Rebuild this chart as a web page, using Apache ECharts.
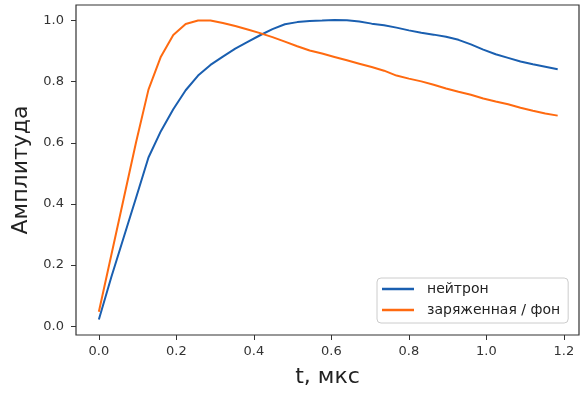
<!DOCTYPE html>
<html>
<head>
<meta charset="utf-8">
<script src="https://cdn.jsdelivr.net/npm/echarts@6/dist/echarts.min.js"></script>
<style>
  html, body { margin: 0; padding: 0; background: #fff; }
  #chart { width: 580px; height: 393px; }
</style>
</head>
<body>
<div id="chart"></div>
<script>
// время, мкс (шаг ~0.032)
const timeUs = [0, 0.032, 0.064, 0.096, 0.128, 0.16, 0.192, 0.224, 0.256, 0.288,
  0.32, 0.352, 0.384, 0.416, 0.448, 0.48, 0.512, 0.544, 0.576, 0.608,
  0.64, 0.672, 0.704, 0.736, 0.768, 0.8, 0.832, 0.864, 0.896, 0.928,
  0.96, 0.992, 1.024, 1.056, 1.088, 1.12, 1.152, 1.184];

// нейтрон
const neutron = [0.022, 0.16, 0.29, 0.42, 0.552, 0.638, 0.71, 0.772, 0.82, 0.855,
  0.882, 0.908, 0.93, 0.952, 0.972, 0.988, 0.995, 0.999, 1.0, 1.002,
  1.001, 0.997, 0.99, 0.985, 0.977, 0.968, 0.96, 0.954, 0.947, 0.937,
  0.922, 0.905, 0.89, 0.878, 0.866, 0.857, 0.849, 0.841];

// заряженная / фон
const charged = [0.047, 0.232, 0.417, 0.602, 0.774, 0.882, 0.953, 0.989, 1.0, 1.0,
  0.992, 0.982, 0.971, 0.959, 0.946, 0.931, 0.916, 0.902, 0.892, 0.881,
  0.87, 0.859, 0.848, 0.836, 0.82, 0.81, 0.801, 0.79, 0.778, 0.767,
  0.757, 0.745, 0.735, 0.726, 0.715, 0.705, 0.696, 0.689];

const xTicks = [0, 0.2, 0.4, 0.6, 0.8, 1.0, 1.2];
const yTicks = [0, 0.2, 0.4, 0.6, 0.8, 1.0];

const font = 'DejaVu Sans';
const chart = echarts.init(document.getElementById('chart'));

const pairs = (ys) => timeUs.map((t, i) => [t, ys[i]]);

chart.setOption({
  animation: false,
  grid: {
    left: 76, top: 5, right: 1, bottom: 57,
    show: true, borderColor: '#333', borderWidth: 1.2
  },
  xAxis: {
    type: 'value',
    min: -0.059, max: 1.239,
    name: 't, мкс',
    nameLocation: 'middle',
    nameGap: 31,
    nameTextStyle: { fontFamily: font, fontSize: 22, color: '#222' },
    axisLine: { show: false, onZero: false },
    splitLine: { show: false },
    axisTick: { show: true, length: 5, lineStyle: { color: '#333' }, customValues: xTicks },
    axisLabel: {
      margin: 10, fontFamily: font, fontSize: 13, color: '#333',
      customValues: xTicks,
      formatter: (v) => v.toFixed(1)
    }
  },
  yAxis: {
    type: 'value',
    min: -0.029, max: 1.051,
    name: 'Амплитуда',
    nameLocation: 'middle',
    nameGap: 40,
    nameTextStyle: { fontFamily: font, fontSize: 22, color: '#222' },
    axisLine: { show: false, onZero: false },
    splitLine: { show: false },
    axisTick: { show: true, length: 5, lineStyle: { color: '#333' }, customValues: yTicks },
    axisLabel: {
      margin: 12, fontFamily: font, fontSize: 13, color: '#333',
      customValues: yTicks,
      formatter: (v) => v.toFixed(1)
    }
  },
  legend: {
    orient: 'vertical',
    left: 377, top: 278,
    padding: [4, 8, 6, 5],
    itemWidth: 32, itemHeight: 2.5, itemGap: 7,
    icon: 'rect',
    backgroundColor: '#fff',
    borderColor: '#ccc', borderWidth: 1, borderRadius: 4,
    textStyle: { fontFamily: font, fontSize: 14, color: '#222', padding: [0, 0, 0, 8] },
    data: ['нейтрон', 'заряженная / фон']
  },
  series: [
    {
      name: 'нейтрон', type: 'line', data: pairs(neutron),
      symbol: 'none', color: '#1a5fb0',
      lineStyle: { width: 2, color: '#1a5fb0' }
    },
    {
      name: 'заряженная / фон', type: 'line', data: pairs(charged),
      symbol: 'none', color: '#ff6a10',
      lineStyle: { width: 2, color: '#ff6a10' }
    }
  ]
});
</script>
</body>
</html>
